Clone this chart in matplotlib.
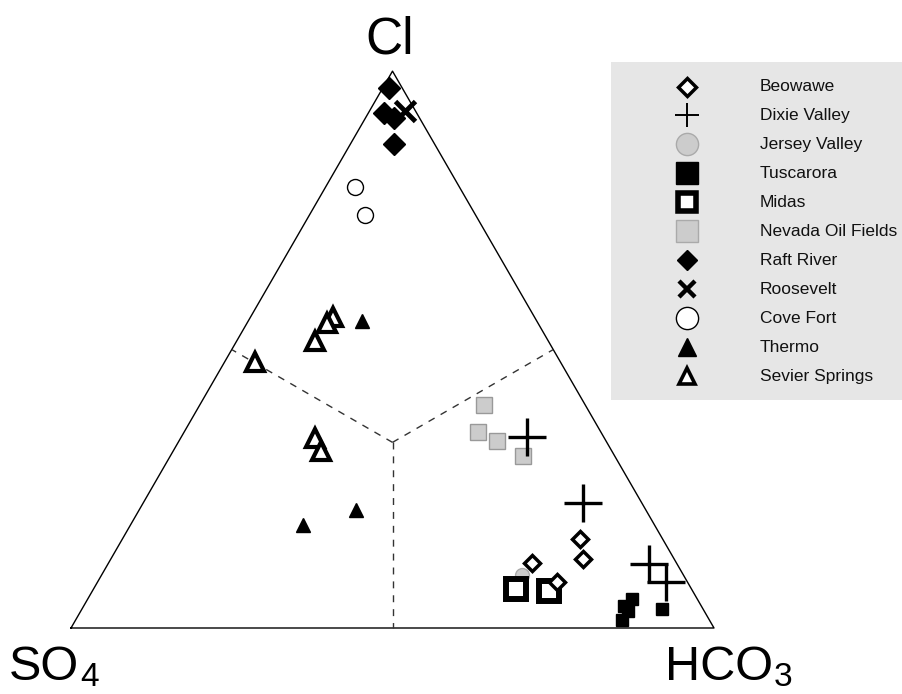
import numpy as np
import matplotlib
matplotlib.use("Agg")
import matplotlib.pyplot as plt

plt.rcParams['font.family'] = ['Liberation Sans', 'DejaVu Sans']

# ---- data: ternary fractions (Cl, HCO3); SO4 = 1 - Cl - HCO3 ----
beowawe_cl = [0.160, 0.124, 0.117, 0.083]
beowawe_hco3 = [0.712, 0.734, 0.659, 0.715]

dixie_cl = [0.343, 0.225, 0.115, 0.083]
dixie_hco3 = [0.538, 0.683, 0.842, 0.884]

jersey_cl = [0.095]
jersey_hco3 = [0.654]

tusc_cl = [0.052, 0.040, 0.031, 0.014, 0.034]
tusc_hco3 = [0.847, 0.840, 0.851, 0.850, 0.902]

midas_cl = [0.070, 0.067]
midas_hco3 = [0.657, 0.710]

nevada_cl = [0.401, 0.352, 0.336, 0.309]
nevada_hco3 = [0.442, 0.457, 0.495, 0.549]

raft_cl = [0.970, 0.925, 0.916, 0.869]
raft_hco3 = [0.010, 0.024, 0.044, 0.068]

roos_cl = [0.928]
roos_hco3 = [0.055]

cove_cl = [0.792, 0.742]
cove_hco3 = [0.046, 0.086]

thermo_cl = [0.551, 0.212, 0.185]
thermo_hco3 = [0.177, 0.337, 0.268]

sevier_cl = [0.559, 0.548, 0.515, 0.478, 0.341, 0.318]
sevier_hco3 = [0.128, 0.124, 0.122, 0.047, 0.209, 0.230]

labels = ["Beowawe", "Dixie Valley", "Jersey Valley", "Tuscarora", "Midas",
          "Nevada Oil Fields", "Raft River", "Roosevelt", "Cove Fort",
          "Thermo", "Sevier Springs"]

S3 = np.sqrt(3) / 2

def xy(cl, hco3):
    cl = np.asarray(cl); hco3 = np.asarray(hco3)
    return hco3 + 0.5 * cl, cl * S3

fig = plt.figure(figsize=(9.02, 6.94), dpi=100)
ax = fig.add_axes([0, 0, 1, 1])
ax.set_xlim(-71 / 643, 831 / 643)
ax.set_ylim(-66 / 643, 628 / 643)
ax.axis('off')

# triangle
ax.plot([0, 1, 0.5, 0], [0, 0, S3, 0], color='black', lw=1.0, zorder=1)
# dashed dividing lines from centroid
cx, cy = 0.5, S3 / 3
for ex, ey in [(0.5, 0), (0.25, S3 / 2), (0.75, S3 / 2)]:
    ax.plot([cx, ex], [cy, ey], color='#333333', lw=1.0, ls=(0, (5, 5)), zorder=1)

styles = [
    dict(marker='D', ms=8.5, mfc='white', mec='black', mew=2.5),
    dict(marker='+', ms=28, mec='black', mew=2.4),
    dict(marker='o', ms=10, mfc='#cccccc', mec='#aaaaaa', mew=1),
    dict(marker='s', ms=8.5, mfc='black', mec='black', mew=1),
    dict(marker='s', ms=14.4, mfc='white', mec='black', mew=4.3),
    dict(marker='s', ms=12, mfc='#cccccc', mec='#999999', mew=1),
    dict(marker='D', ms=11.5, mfc='black', mec='black', mew=1),
    dict(marker='x', ms=15, mec='black', mew=3.5),
    dict(marker='o', ms=11.5, mfc='white', mec='black', mew=1),
    dict(marker='^', ms=10, mfc='black', mec='black', mew=1),
    dict(marker='^', ms=12.5, mfc='white', mec='black', mew=3),
]
series = [(beowawe_cl, beowawe_hco3), (dixie_cl, dixie_hco3), (jersey_cl, jersey_hco3),
          (tusc_cl, tusc_hco3), (midas_cl, midas_hco3), (nevada_cl, nevada_hco3),
          (raft_cl, raft_hco3), (roos_cl, roos_hco3), (cove_cl, cove_hco3),
          (thermo_cl, thermo_hco3), (sevier_cl, sevier_hco3)]
zorders = [6, 7, 3, 5, 4, 3, 5, 6, 4, 4, 4]
for (cl, hc), st, z in zip(series, styles, zorders):
    x, y = xy(cl, hc)
    ax.plot(x, y, ls='none', zorder=z, **st)

# vertex labels (pixel-placed via data transform)
def P(px, py):
    return (px - 71) / 643, (628 - py) / 643

ax.text(*P(390, 53), "Cl", ha='center', va='baseline', fontsize=37)
ax.text(*P(9, 680), "SO", ha='left', va='baseline', fontsize=35)
ax.text(*P(80, 686), "4", ha='left', va='baseline', fontsize=24)
ax.text(*P(665, 680), "HCO", ha='left', va='baseline', fontsize=35)
ax.text(*P(774, 686), "3", ha='left', va='baseline', fontsize=24)

# legend panel
lax = fig.add_axes([611 / 902, (694 - 400) / 694, 291 / 902, 338 / 694])
lax.set_xlim(611, 902)
lax.set_ylim(400, 62)
lax.set_facecolor('#e6e6e6')
for s in lax.spines.values():
    s.set_visible(False)
lax.set_xticks([]); lax.set_yticks([])
leg_styles = [
    dict(marker='D', ms=9.5, mfc='white', mec='black', mew=2.5),
    dict(marker='+', ms=17, mec='black', mew=1.4),
    dict(marker='o', ms=16, mfc='#cccccc', mec='#aaaaaa', mew=1),
    dict(marker='s', ms=15.5, mfc='black', mec='black', mew=1),
    dict(marker='s', ms=13, mfc='white', mec='black', mew=4),
    dict(marker='s', ms=15.5, mfc='#cccccc', mec='#aaaaaa', mew=1),
    dict(marker='D', ms=10.5, mfc='black', mec='black', mew=1),
    dict(marker='x', ms=12, mec='black', mew=3.2),
    dict(marker='o', ms=16, mfc='white', mec='black', mew=1),
    dict(marker='^', ms=13, mfc='black', mec='black', mew=1),
    dict(marker='^', ms=11, mfc='white', mec='black', mew=2.6),
]
row_y = np.linspace(86.5, 376, len(labels))
for yy, lab, st in zip(row_y, labels, leg_styles):
    lax.plot([686.5], [yy], ls='none', **st)
    lax.text(760, yy, lab, ha='left', va='center', fontsize=12.5, color='#111111')

fig.savefig("out.png", dpi=100)
